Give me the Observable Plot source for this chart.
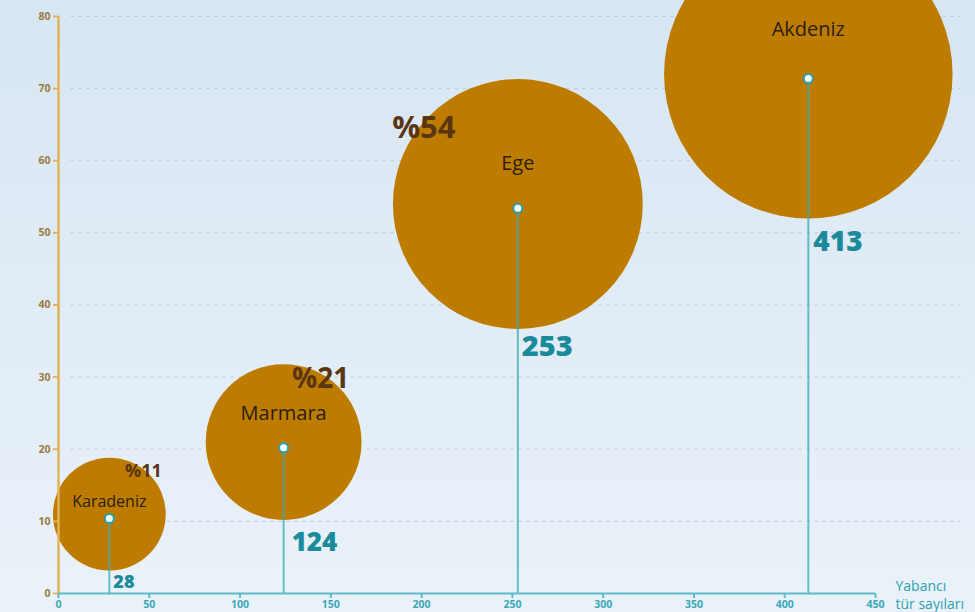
<!DOCTYPE html>
<html>
<head>
<meta charset="utf-8">
<script src="https://cdn.jsdelivr.net/npm/d3@7"></script>
<script src="https://cdn.jsdelivr.net/npm/@observablehq/plot@0.6"></script>
<style>
  html, body { margin: 0; padding: 0; }
  body { width: 975px; height: 612px; overflow: hidden;
         background: linear-gradient(to bottom, #d7e6f3 0%, #e1ecf6 50%, #eaf2f9 100%); }
  #chart svg { display: block; background: transparent; }
</style>
</head>
<body>
<div id="chart"></div>
<script>
// Data
const regions = ["Karadeniz", "Marmara", "Ege", "Akdeniz"];
const counts = [28, 124, 253, 413];          // yabancı tür sayısı
const shares = [11, 21, 54, 72];             // yüzde
const shareLabels = ["%11", "%21", "%54", ""];
const dotY = [10.4, 20.2, 53.4, 71.4];
const xTicks = [0, 50, 100, 150, 200, 250, 300, 350, 400, 450];
const yTicks = [0, 10, 20, 30, 40, 50, 60, 70, 80];
const xTitleLines = ["Yabancı", "tür sayıları"];

const data = regions.map((name, i) => ({
  name, count: counts[i], share: shares[i], shareLabel: shareLabels[i], dotY: dotY[i]
}));

// Label layout (pixel nudges relative to each bubble centre)
const nameLayout  = [{dy: -12, size: 16}, {dy: -28, size: 20}, {dy: -40, size: 20}, {dy: -45, size: 20}];
const shareLayout = [{dx: 34, dy: -43, size: 18}, {dx: 37, dy: -63, size: 28}, {dx: -94, dy: -76, size: 31}, {dx: 0, dy: 0, size: 0}];
const countLayout = [{dx: 4, dy: 68, size: 18}, {dx: 8, dy: 101, size: 26}, {dx: 4, dy: 143, size: 29}, {dx: 5, dy: 168, size: 28}];

const font = "'Open Sans', Lato, sans-serif";
const teal = "#2ba3b2";
const tealDark = "#1b8b9b";
const gold = "#e0b45a";

const labelMarks = [];
data.forEach((d, i) => {
  labelMarks.push(Plot.text([d], {
    x: "count", y: "share", text: "name", dy: nameLayout[i].dy,
    fontSize: nameLayout[i].size, fill: "#2b2110", fontWeight: 500, fontFamily: font
  }));
  if (d.shareLabel) labelMarks.push(Plot.text([d], {
    x: "count", y: "share", text: "shareLabel", dx: shareLayout[i].dx, dy: shareLayout[i].dy,
    fontSize: shareLayout[i].size, fill: "#5b3512", fontWeight: 700, fontFamily: font
  }));
  labelMarks.push(Plot.text([d], {
    x: "count", y: "share", text: d => String(d.count), dx: countLayout[i].dx, dy: countLayout[i].dy,
    textAnchor: "start", fontSize: countLayout[i].size, fill: tealDark, fontWeight: 800, fontFamily: font
  }));
});

const chart = Plot.plot({
  width: 975,
  height: 612,
  marginLeft: 58,
  marginRight: 100,
  marginTop: 16,
  marginBottom: 19,
  style: { background: "transparent", fontFamily: font, overflow: "hidden" },
  x: { domain: [0, 450], axis: null },
  y: { domain: [0, 80], axis: null },
  r: { type: "sqrt", domain: [0, 100], range: [0, 170] },
  marks: [
    // dotted gridlines
    Plot.ruleY(yTicks.slice(1), { x1: 7, x2: 497, stroke: "#b9c4d0", strokeWidth: 1.2, strokeDasharray: "3,5", strokeOpacity: 0.8 }),
    // bubbles
    Plot.dot(data, { x: "count", y: "share", r: "share", fill: "#bd7b00", stroke: "none" }),
    // stems
    Plot.ruleX(data, { x: "count", y1: 0, y2: "dotY", stroke: "#3aa9b6", strokeWidth: 2, strokeOpacity: 0.75 }),
    // y axis
    Plot.ruleX([0], { y1: 0, y2: 80, stroke: gold, strokeWidth: 2.5 }),
    Plot.axisY({ ticks: yTicks, label: null, tickSize: 5, stroke: gold, strokeWidth: 2, fill: "#9b7a3e", fontSize: 10.5, fontWeight: 700, tickPadding: 3, fontFamily: font }),
    // x axis
    Plot.ruleY([0], { x1: 0, x2: 450, stroke: "#5dbcc6", strokeWidth: 2 }),
    Plot.axisX({ ticks: xTicks, label: null, tickSize: 5, stroke: "#5dbcc6", strokeWidth: 2, fill: "#3aa9b6", fontSize: 10.5, fontWeight: 700, tickPadding: 2, fontFamily: font }),
    // points
    Plot.dot(data, { x: "count", y: "dotY", r: 4.5, fill: "white", stroke: "#2a9fad", strokeWidth: 2 }),
    ...labelMarks,
    // axis title (two lines)
    Plot.text([xTitleLines[0]], { x: 450, y: 0, dx: 20, dy: -7, textAnchor: "start", fontSize: 14, fill: teal, fontWeight: 500, fontFamily: font }),
    Plot.text([xTitleLines[1]], { x: 450, y: 0, dx: 20, dy: 11, textAnchor: "start", fontSize: 14, fill: teal, fontWeight: 500, fontFamily: font })
  ]
});
document.getElementById("chart").appendChild(chart);
</script>
</body>
</html>
